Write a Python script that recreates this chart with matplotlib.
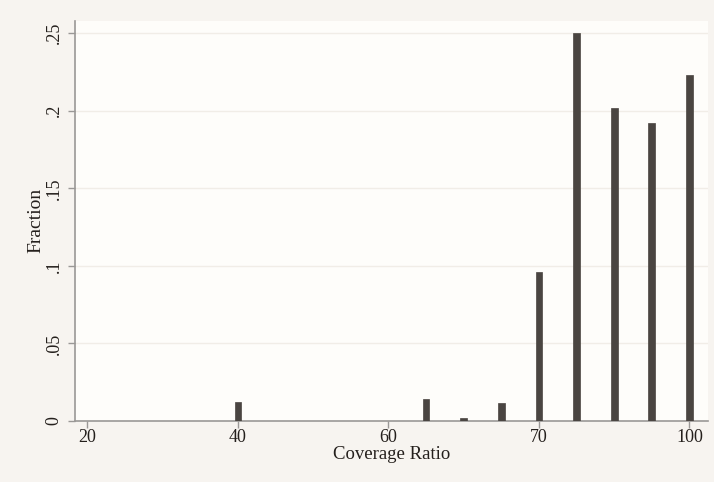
import numpy as np
import matplotlib.pyplot as plt

# bins (coverage ratio) and fraction per bin
coverage = [40, 65, 70, 75, 80, 85, 90, 95, 100]
fraction = [0.0122, 0.0140, 0.0020, 0.0115, 0.0960, 0.2500, 0.2015, 0.1920, 0.2230]

xtick_pos = [20, 40, 60, 80, 100]
xtick_labels = ['20', '40', '60', '70', '100']
ytick_pos = [0, 0.05, 0.10, 0.15, 0.20, 0.25]
ytick_labels = ['0', '.05', '.1', '.15', '.2', '.25']

plt.rcParams['font.family'] = ['Liberation Serif', 'DejaVu Serif']

fig = plt.figure(figsize=(7.14, 4.82), dpi=100, facecolor='#f7f4f0')
ax = fig.add_axes([0.105, 0.1266, 0.8866, 0.8304])
ax.set_facecolor('#fefdfa')

ax.bar(coverage, fraction, width=0.9, color='#4a4541', edgecolor='#4a4541', linewidth=0.5, zorder=3)

ax.set_xlim(18.34, 102.46)
ax.set_ylim(0, 0.258)
ax.set_xticks(xtick_pos)
ax.set_xticklabels(xtick_labels)
ax.set_yticks(ytick_pos)
ax.set_yticklabels(ytick_labels, rotation=90, va='center')
ax.grid(axis='y', color='#f1ede7', linewidth=1, zorder=0)

for s in ['top', 'right']:
    ax.spines[s].set_visible(False)
for s in ['left', 'bottom']:
    ax.spines[s].set_color('#9a9896')
    ax.spines[s].set_linewidth(1.2)
ax.tick_params(colors='#9a9896', labelcolor='#241f1c', labelsize=13, length=5, width=1)
ax.tick_params(axis='x', pad=1)
ax.tick_params(axis='y', pad=4)

ax.set_xlabel('Coverage Ratio', fontsize=13.5, color='#241f1c', labelpad=0)
ax.set_ylabel('Fraction', fontsize=14, color='#241f1c', labelpad=1)

fig.savefig('out.png', dpi=100, facecolor=fig.get_facecolor())
